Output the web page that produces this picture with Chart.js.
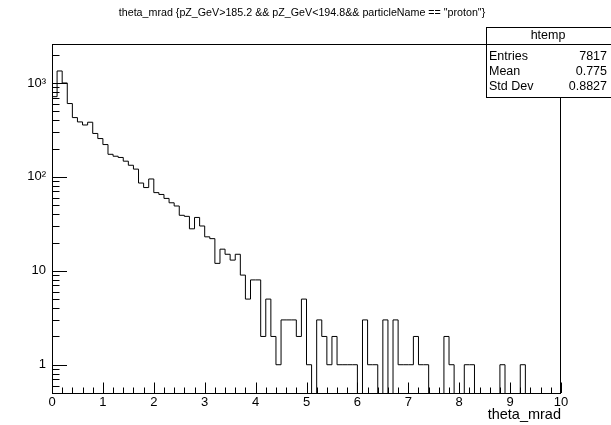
<!DOCTYPE html>
<html>
<head>
<meta charset="utf-8">
<script src="https://cdn.jsdelivr.net/npm/chart.js@4.4.0/dist/chart.umd.min.js"></script>
<style>
    html, body { margin: 0; padding: 0; background: #fff; }
    #wrap { width: 611px; height: 425px; }
</style>
</head>
<body>
<div id="wrap"><canvas id="histCanvas" width="611" height="425"></canvas></div>
<script>
// theta_mrad histogram: 100 bins between 0 and 10, log y axis

const histTitle = 'theta_mrad {pZ_GeV>185.2 && pZ_GeV<194.8&& particleName == "proton"}';
const xAxisTitle = 'theta_mrad';

const xMin = 0;
const xMax = 10;

// entries per bin, one per 0.1 mrad
const binCounts = [
    715, 1342, 1000, 604, 428, 385, 357, 382, 290, 256,
    221, 174, 166, 161, 147, 133, 121, 86, 77, 95,
    68, 65, 59, 53, 49, 39, 38, 28, 37, 30,
    23, 22, 12, 17, 15, 13, 15, 9, 5, 8,
    8, 2, 5, 2, 1, 3, 3, 3, 2, 5,
    1, 0, 3, 2, 1, 2, 1, 1, 1, 1,
    0, 3, 1, 1, 0, 3, 0, 3, 1, 1,
    1, 2, 1, 1, 0, 0, 0, 2, 1, 0,
    0, 1, 1, 0, 0, 0, 0, 0, 1, 0,
    0, 0, 1, 0, 0, 0, 0, 0, 0, 0
];

const xTickValues = [0, 1, 2, 3, 4, 5, 6, 7, 8, 9, 10];
const yTickValues = [1, 10, 100, 1000];
const yTickLabels = ['1', '10', '10\u00B2', '10\u00B3'];
const yMin = 0.5;
const yMax = 2600;

const statsName = 'htemp';
const statsRows = [
    ['Entries', '7817'],
    ['Mean', '0.775'],
    ['Std Dev', '0.8827']
];

const FONT = "'Liberation Sans', Arial, Helvetica, sans-serif";

// step outline: one point per bin low edge plus the closing upper edge.
// empty bins go below the axis minimum so the line drops to the frame bottom
function buildSteps() {
    const n = binCounts.length;
    const w = (xMax - xMin) / n;
    const pts = binCounts.map((c, i) => ({ x: xMin + i * w, y: c > 0 ? c : 0.01 }));
    const last = binCounts[n - 1];
    pts.push({ x: xMax, y: last > 0 ? last : 0.01 });
    return pts;
}

// ROOT-like frame: inward ticks, title, axis title and stats box
const rootFramePlugin = {
    id: 'rootFrame',
    beforeDraw(chart) {
        const ctx = chart.ctx;
        ctx.save();
        ctx.fillStyle = '#fff';
        ctx.fillRect(0, 0, chart.width, chart.height);
        ctx.restore();
    },
    afterDraw(chart) {
        const { ctx, chartArea: a, scales } = chart;
        const xs = scales.x;
        const ys = scales.y;
        ctx.save();
        ctx.strokeStyle = '#000';
        ctx.lineWidth = 1;

        // frame
        ctx.strokeRect(a.left + 0.5, a.top + 0.5, a.right - a.left - 1, a.bottom - a.top);

        // x ticks every 0.2, long ones on integers
        ctx.beginPath();
        for (let j = 0; j <= (xMax - xMin) * 5; j++) {
            const px = Math.round(xs.getPixelForValue(xMin + j / 5)) + 0.5;
            const len = j % 5 === 0 ? 10.5 : 5.5;
            ctx.moveTo(px, a.bottom);
            ctx.lineTo(px, a.bottom - len);
        }
        ctx.stroke();

        // y ticks on 1..9 x 10^k, long ones on decades
        ctx.beginPath();
        for (let k = -1; k <= 3; k++) {
            for (let m = 1; m <= 9; m++) {
                const v = m * Math.pow(10, k);
                if (v < yMin || v > yMax) continue;
                const py = Math.round(ys.getPixelForValue(v)) + 0.5;
                const len = m === 1 ? 15 : 7.5;
                ctx.moveTo(a.left, py);
                ctx.lineTo(a.left + len, py);
            }
        }
        ctx.stroke();

        // title
        ctx.fillStyle = '#000';
        ctx.font = '10.7px ' + FONT;
        ctx.textAlign = 'center';
        ctx.textBaseline = 'middle';
        ctx.fillText(histTitle, 302, 13);

        // x axis title
        ctx.font = '14.5px ' + FONT;
        ctx.textAlign = 'right';
        ctx.fillText(xAxisTitle, a.right, 415);

        // stats box
        const bx = 486.5, by = 27.5, bw = 130, bh = 70;
        const rowH = 15;
        ctx.fillStyle = '#fff';
        ctx.fillRect(bx, by, bw, bh);
        ctx.strokeRect(bx, by, bw, bh);
        ctx.beginPath();
        ctx.moveTo(bx, 44.5);
        ctx.lineTo(bx + bw, 44.5);
        ctx.stroke();

        ctx.fillStyle = '#000';
        ctx.font = '12.5px ' + FONT;
        ctx.textAlign = 'center';
        ctx.fillText(statsName, 548, 36);
        statsRows.forEach((row, i) => {
            const ty = 57 + i * rowH;
            ctx.textAlign = 'left';
            ctx.fillText(row[0], 489, ty);
            ctx.textAlign = 'right';
            ctx.fillText(row[1], 607, ty);
        });
        ctx.restore();
    }
};

const ctx = document.getElementById('histCanvas');

new Chart(ctx, {
    type: 'line',
    data: {
        datasets: [{
            data: buildSteps(),
            stepped: true,
            borderColor: '#000',
            borderWidth: 1,
            pointRadius: 0,
            fill: false,
            tension: 0
        }]
    },
    options: {
        responsive: false,
        animation: false,
        events: [],
        layout: {
            padding: { left: 0, right: 50, top: 44, bottom: 0 }
        },
        plugins: {
            legend: { display: false },
            title: { display: false },
            tooltip: { enabled: false }
        },
        scales: {
            x: {
                type: 'linear',
                min: xMin,
                max: xMax,
                afterBuildTicks: (scale) => {
                    scale.ticks = xTickValues.map(v => ({ value: v }));
                },
                afterFit: (scale) => { scale.height = 32; },
                grid: { display: false, drawTicks: false },
                border: { display: false },
                ticks: {
                    color: '#000',
                    padding: 2,
                    maxRotation: 0,
                    autoSkip: false,
                    font: { size: 13, family: FONT },
                    callback: (v) => String(v)
                }
            },
            y: {
                type: 'logarithmic',
                min: yMin,
                max: yMax,
                afterBuildTicks: (scale) => {
                    scale.ticks = yTickValues.map(v => ({ value: v }));
                },
                afterFit: (scale) => { scale.width = 52; },
                grid: { display: false, drawTicks: false },
                border: { display: false },
                ticks: {
                    color: '#000',
                    padding: 6,
                    autoSkip: false,
                    font: { size: 13, family: FONT },
                    callback: (v) => {
                        const i = yTickValues.indexOf(v);
                        return i >= 0 ? yTickLabels[i] : '';
                    }
                }
            }
        }
    },
    plugins: [rootFramePlugin]
});
</script>
</body>
</html>
